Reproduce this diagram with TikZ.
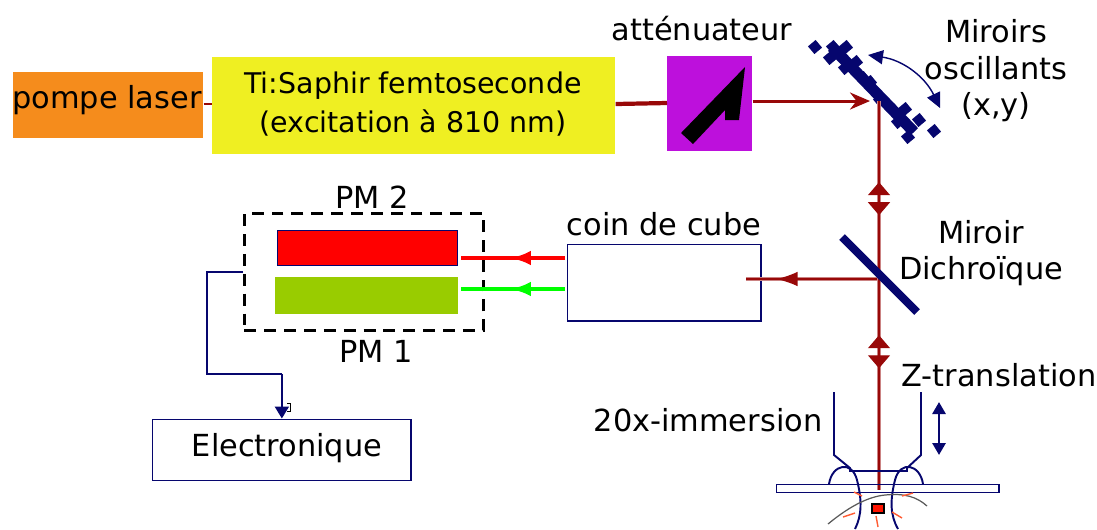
\documentclass[tikz,border=0pt]{standalone}
\usepackage{fontspec}
\setmainfont{DejaVu Sans}
\usepackage{xcolor}
\usetikzlibrary{arrows.meta, decorations.markings}
\definecolor{marine}{HTML}{06066E}
\definecolor{laser}{HTML}{980808}
\definecolor{pompe}{HTML}{F58C1C}
\definecolor{saphir}{HTML}{EFEF22}
\definecolor{violet}{HTML}{BD10DC}
\definecolor{vertpm}{HTML}{99CC00}
\begin{document}
\begin{tikzpicture}[
        x=0.02cm, y=-0.02cm,
        label/.style={font=\fontsize{17.3}{20}\selectfont, inner sep=0pt},
        plein/.style={rectangle, inner sep=0pt, anchor=north west},
        cadre/.style={rectangle, draw=marine, line width=1pt, fill=white, inner sep=0pt, anchor=north west},
        beam/.style={draw=laser, line width=0.7pt, preaction={draw=laser!50, line width=2.1pt}},
        fleche/.style={-{Stealth[length=4mm, width=3.4mm, inset=1.3mm]}},
        pointe/.style={postaction={decorate}, decoration={markings,
            mark=at position #1-9.4pt with {\arrowreversed{Triangle[length=2.6mm, width=4.4mm]}},
            mark=at position #1+9.4pt with {\arrow{Triangle[length=2.6mm, width=4.4mm]}}}},
        milieu/.style={postaction={decorate}, decoration={markings,
            mark=at position #1 with {\arrow{Latex[length=4.2mm, width=2.9mm]}}}},
        nav/.style={draw=marine, line width=1.1pt},
        point/.style={rectangle, fill=marine, minimum size=0.2cm, inner sep=0pt, rotate=40},
        rayon/.style={draw=red!60!orange!80, line width=0.8pt}
    ]
    \useasboundingbox (0,0) rectangle (1097,529);

    % Sources
    \node[plein, fill=pompe, minimum width=3.80cm, minimum height=1.32cm] (pump) at (13,72) {};
    \node[plein, fill=saphir, minimum width=8.06cm, minimum height=1.94cm] (saph) at (212,57) {};
    \node[plein, fill=violet, minimum width=1.70cm, minimum height=1.90cm] (att) at (667,56) {};
    \fill (745,67) -- (739,120) -- (725,120) -- (725,110) -- (693,144) -- (681,133) -- cycle;
    \node[label] (pumpT) at (107,100) {pompe laser};
    \node[label, align=center, font=\fontsize{16.2}{22.6}\selectfont] (saphT) at (413,104) {Ti:Saphir femtoseconde\\(excitation à 810 nm)};
    \node[label] (attT) at (702,29) {atténuateur};

    % Miroirs oscillants
    \coordinate (scanA) at (832,47);
    \coordinate (scanB) at (914,132);
    \draw[marine, line width=6.4pt] (scanA) -- (scanB);
    \foreach \px/\py [count=\i] in {815/47, 833/47, 846/47, 830/58, 856/62, 845/68, 863/78, 888/105, 905/109, 898/122, 919/120, 908/137, 934/131, 870/82, 880/100, 893/110}
        \node[point] (pt\i) at (\px,\py) {};
    \coordinate (oscA) at (868,55);
    \coordinate (oscB) at (940,108);
    \draw[draw=marine, line width=0.8pt, {Triangle[length=3mm, width=2.8mm]}-{Triangle[length=3mm, width=2.8mm]}] (oscA) to[bend left=28] (oscB);
    \node[label] (mirT1) at (996,31) {Miroirs};
    \node[label] (mirT2) at (996,68) {oscillants};
    \node[label] (mirT3) at (996,107) {(x,y)};

    % Photomultiplicateurs
    \node[plein, draw=black, dash pattern=on 6.8pt off 4.5pt, line width=1.7pt, minimum width=4.78cm, minimum height=2.34cm] (pmbox) at (243,212) {};
    \node[plein, fill=red, draw=marine, line width=0.8pt, minimum width=3.60cm, minimum height=0.70cm] (pm2) at (277,230) {};
    \node[plein, fill=vertpm, minimum width=3.66cm, minimum height=0.74cm] (pm1) at (275,277) {};
    \node[label] (pm2T) at (372,197) {PM 2};
    \node[label] (pm1T) at (376,351) {PM 1};

    % Coin de cube et electronique
    \node[cadre, minimum width=3.88cm, minimum height=1.54cm] (coin) at (566.5,243.5) {};
    \node[label] (coinT) at (664,224) {coin de cube};
    \node[cadre, minimum width=5.18cm, minimum height=1.22cm] (elec) at (151.5,418.5) {};
    \node[label] (elecT) at (287,448) {Electronique};
    \coordinate (e1) at (pmbox.west -| 207,0);
    \coordinate (e2) at (207,374);
    \coordinate (e3) at (elec.north |- e2);
    \draw[nav] (pmbox.west) -- (e1) -- (e2) -- (e3);
    \draw[nav, -{Triangle[length=2.4mm, width=2.8mm]}] (e3) -- (elec.north);
    \draw[black, line width=0.3pt] (287,403) -- (290,403) -- (290,411) -- (287,411);

    % Faisceaux horizontaux
    \coordinate (scan) at (879,101);
    \coordinate (dich) at (879,279);
    \coordinate (ech) at (879,490);
    \coordinate (coinIn) at (746,279);
    \coordinate (rougeA) at (565,258);
    \coordinate (rougeB) at (461,258);
    \coordinate (vertA) at (565,289);
    \coordinate (vertB) at (461,289);
    \draw[laser, line width=1.4pt] (pump.east |- 0,104) -- (saph.west |- 0,104);
    \draw[laser, line width=2.4pt] (saph.east |- 0,104) -- (att.west |- 0,103);
    \draw[laser, line width=1.7pt, fleche] (att.east |- 0,101) -- (scan -| 870,0);
    \draw[beam, milieu=0.77] (dich) -- (coinIn);
    \draw[red, line width=2.4pt, milieu=0.53] (rougeA) -- (rougeB);
    \draw[green, line width=2.4pt, milieu=0.53] (vertA) -- (vertB);

    % Faisceau vertical
    \draw[beam, pointe=55.6pt] (scan) -- (dich);
    \draw[beam, pointe=41.4pt] (dich) -- (ech);

    % Miroir dichroique
    \coordinate (dichA) at (842,237);
    \coordinate (dichB) at (917,312);
    \draw[marine, line width=4.6pt] (dichA) -- (dichB);
    \node[label] (dichT1) at (981,232) {Miroir};
    \node[label] (dichT2) at (981,271) {Dichroïque};

    % Objectif et echantillon
    \node[plein, draw=marine, line width=1.1pt, minimum width=4.46cm, minimum height=0.16cm] (lame) at (775.5,483.5) {};
    \draw[nav] (834,392) -- (834,455) -- (850,468) -- (850,471) -- (907,471) -- (907,468) -- (921,455) -- (921,392);
    \draw[nav] (829,484) .. controls (832,464) and (852,460) .. (857,480) .. controls (862,500) and (862,515) .. (855,529);
    \draw[nav] (923,484) .. controls (920,464) and (900,460) .. (895,480) .. controls (890,500) and (890,515) .. (898,529);
    \draw[black!65, line width=0.7pt] (828,524) .. controls (845,510) and (865,497) .. (885,495) .. controls (905,493) and (917,497) .. (927,506);
    \node[plein, fill=red!85!orange, draw=black, line width=1pt, minimum width=0.24cm, minimum height=0.18cm] (cible) at (871,503) {};
    \draw[rayon] (854,492) -- (862,496);
    \draw[rayon] (902,496) -- (913,493);
    \draw[rayon] (843,517) -- (855,513);
    \draw[rayon] (892,512) -- (902,518);
    \draw[rayon] (876,516) -- (878,527);
    \coordinate (zA) at (939,402);
    \coordinate (zB) at (939,455);
    \draw[marine, line width=1.6pt, {Triangle[length=2.4mm, width=2.6mm]}-{Triangle[length=2.4mm, width=2.6mm]}] (zA) -- (zB);
    \node[label] (zT) at (999,375) {Z-translation};
    \node[label] (objT) at (708,420) {20x-immersion};
\end{tikzpicture}
\end{document}
